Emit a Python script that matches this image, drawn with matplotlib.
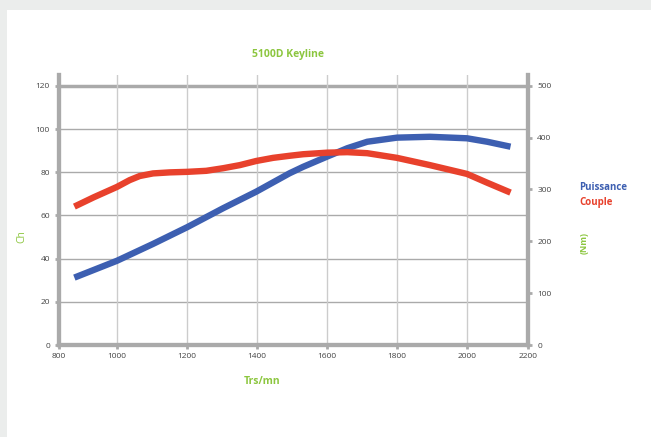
import numpy as np
import matplotlib
matplotlib.use('Agg')
import matplotlib.pyplot as plt
from matplotlib.patches import Rectangle

rpm_p = [853, 1000, 1103, 1200, 1303, 1398, 1493, 1532, 1600, 1658, 1715, 1800, 1894, 2000, 2066, 2142]
puissance = [31.2, 39.0, 46.8, 54.5, 63.3, 71.0, 79.5, 82.5, 87.2, 91.1, 94.1, 96.0, 96.4, 95.7, 94.1, 91.8]
rpm_c = [853, 920, 1000, 1036, 1065, 1103, 1151, 1200, 1255, 1303, 1351, 1398, 1446, 1493,
	1532, 1600, 1658, 1715, 1800, 1894, 2000, 2066, 2142]
couple = [267, 285, 305, 318, 326, 331, 333, 334, 336, 341, 347, 355, 361, 365,
	368, 371, 372, 370, 361, 347, 330, 313, 294]
xticks = [800, 1000, 1200, 1400, 1600, 1800, 2000, 2200]
ch_ticks = [0, 20, 40, 60, 80, 100, 120]
nm_ticks = [0, 100, 200, 300, 400, 500]

green = '#8cc63f'
blue = '#3d5fb1'
red = '#e8412c'
grey = '#aaaaaa'
plt.rcParams['font.family'] = ['Open Sans', 'DejaVu Sans']

# axe x en "categories": les bords sont plus courts que les intervalles internes
xp = [800, 1000, 2000, 2200]
fp = [0, 58, 408, 469.3]
def fwd(x):
	return np.interp(x, xp, fp, left=-1000, right=2000)
def inv(y):
	return np.interp(y, fp, xp, left=0, right=4000)

fig = plt.figure(figsize=(6.51, 4.37), dpi=100)
fig.patch.set_facecolor('#ebedec')
fig.patches.append(Rectangle((7/651, 0), 1, 1 - 10/437, transform=fig.transFigure,
	facecolor='white', edgecolor='none', zorder=-5))

ax = fig.add_axes([59/651, 1 - 345/437, 469.3/651, 270/437])
ax.set_facecolor('none')
ax.set_xscale('function', functions=(fwd, inv))
ax.set_xlim(800, 2200)
ax.set_ylim(0, 125)
ax2 = ax.twinx()
ax2.set_ylim(0, 125 * 500 / 120)

for y in ch_ticks[1:-1]:
	ax.axhline(y, color=grey, lw=1.0, zorder=1)
ax.axhline(120, color=grey, lw=2.5, zorder=1)
for x in xticks[1:-1]:
	ax.axvline(x, color='#cccccc', lw=1.0, zorder=1)

ax.plot(rpm_p, puissance, color=blue, lw=4.6, solid_capstyle='butt', solid_joinstyle='round', zorder=3)
ax2.plot(rpm_c, couple, color=red, lw=4.6, solid_capstyle='butt', solid_joinstyle='round', zorder=3)

for a in (ax, ax2):
	a.spines['top'].set_visible(False)
	for s in ('left', 'right', 'bottom'):
		a.spines[s].set_color(grey)
		a.spines[s].set_linewidth(3)
	a.tick_params(colors=grey, labelcolor='#444444', labelsize=6, width=2, length=3)

ax.set_xticks(xticks)
ax.set_xticklabels([str(v) for v in xticks])
ax.set_yticks(ch_ticks)
ax2.set_yticks(nm_ticks)
ax.tick_params(axis='x', pad=3)

fig.text(288/651, 1 - 55/437, '5100D Keyline', color=green, fontsize=7.5, fontweight='bold',
	ha='center', va='center')
fig.text(262/651, 1 - 381/437, 'Trs/mn', color=green, fontsize=7.5, fontweight='bold',
	ha='center', va='center')
fig.text(22/651, 1 - 237/437, 'Ch', color=green, fontsize=7.5, rotation=90,
	ha='center', va='center')
fig.text(584/651, 1 - 243/437, '(Nm)', color=green, fontsize=6.5, fontweight='bold',
	rotation=90, ha='center', va='center')
fig.text(579/651, 1 - 188/437, 'Puissance', color=blue, fontsize=7, fontweight='bold',
	ha='left', va='center')
fig.text(579/651, 1 - 203/437, 'Couple', color=red, fontsize=7, fontweight='bold',
	ha='left', va='center')

fig.savefig('out.png', dpi=100, facecolor=fig.get_facecolor())
